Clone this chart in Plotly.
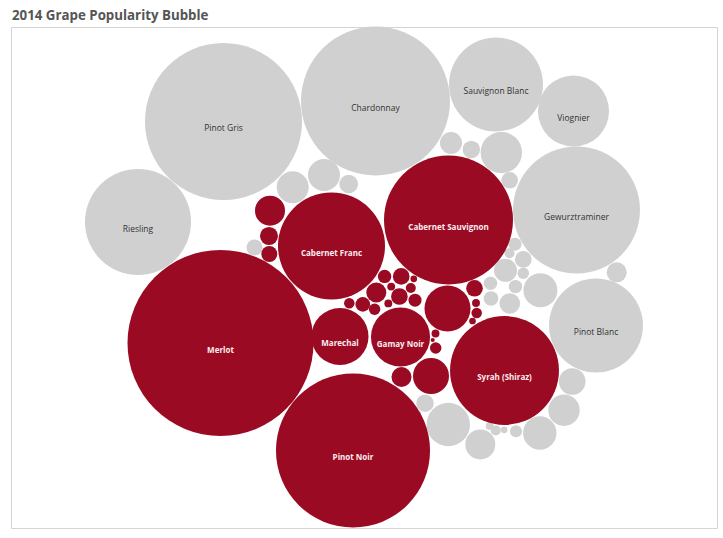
import math
import plotly.graph_objects as go

# ---- data (popularity index, Merlot = 100) ----
red_names = ["Merlot", "Pinot Noir", "Cabernet Sauvignon", "Cabernet Franc", "Syrah (Shiraz)",
             "Gamay Noir", "Marechal",
             "", "", "", "", "", "", "", "", "", "", "", "", "", "", "", "", "", "", "", "", "", "", "", "", ""]
red_values = [100, 68.6, 48.1, 33.1, 34.3, 10.1, 9.4,
              6.12, 3.75, 1.16, 2.60, 0.94, 0.74,
              0.52, 0.80, 0.13, 1.16, 0.18, 0.29, 0.80, 0.49, 0.32, 0.62, 0.38, 0.18,
              0.80, 0.18, 0.32, 0.13, 0.18, 0.38, 0.05]
red_x = [220.5, 353, 448.5, 331.5, 504.5, 400.5, 340,
         447.5, 431, 401.5, 270, 269, 269.3,
         384.6, 401.2, 413.8, 376.3, 391.2, 410.8, 399.4, 415, 349.3, 362.8, 374.6, 388.3,
         474.5, 476, 476.7, 472.5, 435.5, 435.7, 432.7]
red_y = [343, 450.5, 220, 246, 370.5, 337, 336.5,
         308.5, 376, 377, 210.7, 236, 254,
         276.4, 276.4, 278.8, 292.5, 286.6, 288, 296.5, 300.2, 303.3, 304.4, 309.3, 303.4,
         288.3, 303, 313, 321, 333.5, 348, 340]

gray_names = ["Pinot Gris", "Chardonnay", "Sauvignon Blanc", "Viognier", "Gewurztraminer",
              "Pinot Blanc", "Riesling",
              "", "", "", "", "", "", "", "", "", "", "", "", "", "", "", "", "", "", "", "", "",
              "", "", "", "", "", "", "", "", ""]
gray_values = [71.3, 64.2, 25.5, 14.6, 46.6, 25.5, 32.5,
               0.74, 2.96, 2.96, 1.00,
               1.40, 0.88, 4.95, 0.80,
               0.49, 0.29, 0.80, 1.53, 0.38, 0.52, 0.52, 3.34, 0.62, 1.23,
               1.16, 2.05, 2.85, 3.22, 0.42, 0.13, 0.29, 0.18, 5.44, 2.60, 0.88, 0.05]
gray_x = [223.5, 375.5, 496, 573.5, 576.5, 596, 138,
          254.5, 292.7, 324, 348.7,
          451, 471.3, 501.3, 509.7,
          515, 509.5, 523.3, 505.5, 523.3, 490.5, 515.5, 540.4, 491, 509.8,
          616.7, 572.2, 564, 539.8, 516, 504.2, 495.8, 489.7, 448.3, 480.3, 425, 419]
gray_y = [121.5, 101, 84.5, 111, 210, 325.5, 222,
          247.5, 187.3, 175, 184,
          143, 149.5, 152.5, 180.3,
          244.2, 253.2, 259.4, 270.3, 273.3, 283.3, 286.6, 290.2, 298.5, 303.5,
          272.3, 381.5, 410.2, 433, 431.2, 429.8, 430.4, 425.9, 424.5, 444.4, 403.2, 413]

RED = "#9b0a23"
GRAY = "#d0d0d0"
UNIT = 9.3        # radius (px) of a bubble with popularity 1
LABEL_DROP = 7.5  # label sits slightly below bubble centre


def diam(vals):
    return [2 * UNIT * math.sqrt(v) for v in vals]


fig = go.Figure()

fig.add_trace(go.Scatter(
    x=gray_x, y=gray_y, mode="markers", hoverinfo="skip",
    marker=dict(size=diam(gray_values), sizemode="diameter", color=GRAY,
                line=dict(width=0), opacity=1),
    showlegend=False))
fig.add_trace(go.Scatter(
    x=red_x, y=red_y, mode="markers", hoverinfo="skip",
    marker=dict(size=diam(red_values), sizemode="diameter", color=RED,
                line=dict(width=0), opacity=1),
    showlegend=False))

fig.add_trace(go.Scatter(
    x=gray_x, y=[y + LABEL_DROP for y in gray_y], mode="text", text=gray_names,
    textposition="middle center", hoverinfo="skip",
    textfont=dict(family="Open Sans", size=8.5, color="#333333"),
    showlegend=False))
fig.add_trace(go.Scatter(
    x=red_x, y=[y + LABEL_DROP for y in red_y], mode="text", text=red_names,
    textposition="middle center", hoverinfo="skip",
    textfont=dict(family="Open Sans", size=8, color="#fbeef0", weight="bold"),
    showlegend=False))

fig.add_shape(type="rect", x0=11.5, y0=27.5, x1=717.5, y1=528.5,
              line=dict(color="#d4d4d4", width=1), layer="below")

fig.add_annotation(x=11, y=15, xref="x", yref="y", text="2014 Grape Popularity Bubble",
                   showarrow=False, xanchor="left", yanchor="middle", borderpad=0,
                   font=dict(family="Open Sans", size=13.3, color="#555555", weight="bold"))

fig.update_layout(
    width=723, height=538,
    margin=dict(l=0, r=0, t=0, b=0),
    paper_bgcolor="white", plot_bgcolor="white",
    hovermode=False,
    xaxis=dict(range=[0, 723], visible=False, fixedrange=True),
    yaxis=dict(range=[538, 0], visible=False, fixedrange=True),
)

fig.write_html("out.html",
               config={"displayModeBar": False, "staticPlot": True},
               post_script="document.body.style.margin='0';document.body.style.overflow='hidden';")
